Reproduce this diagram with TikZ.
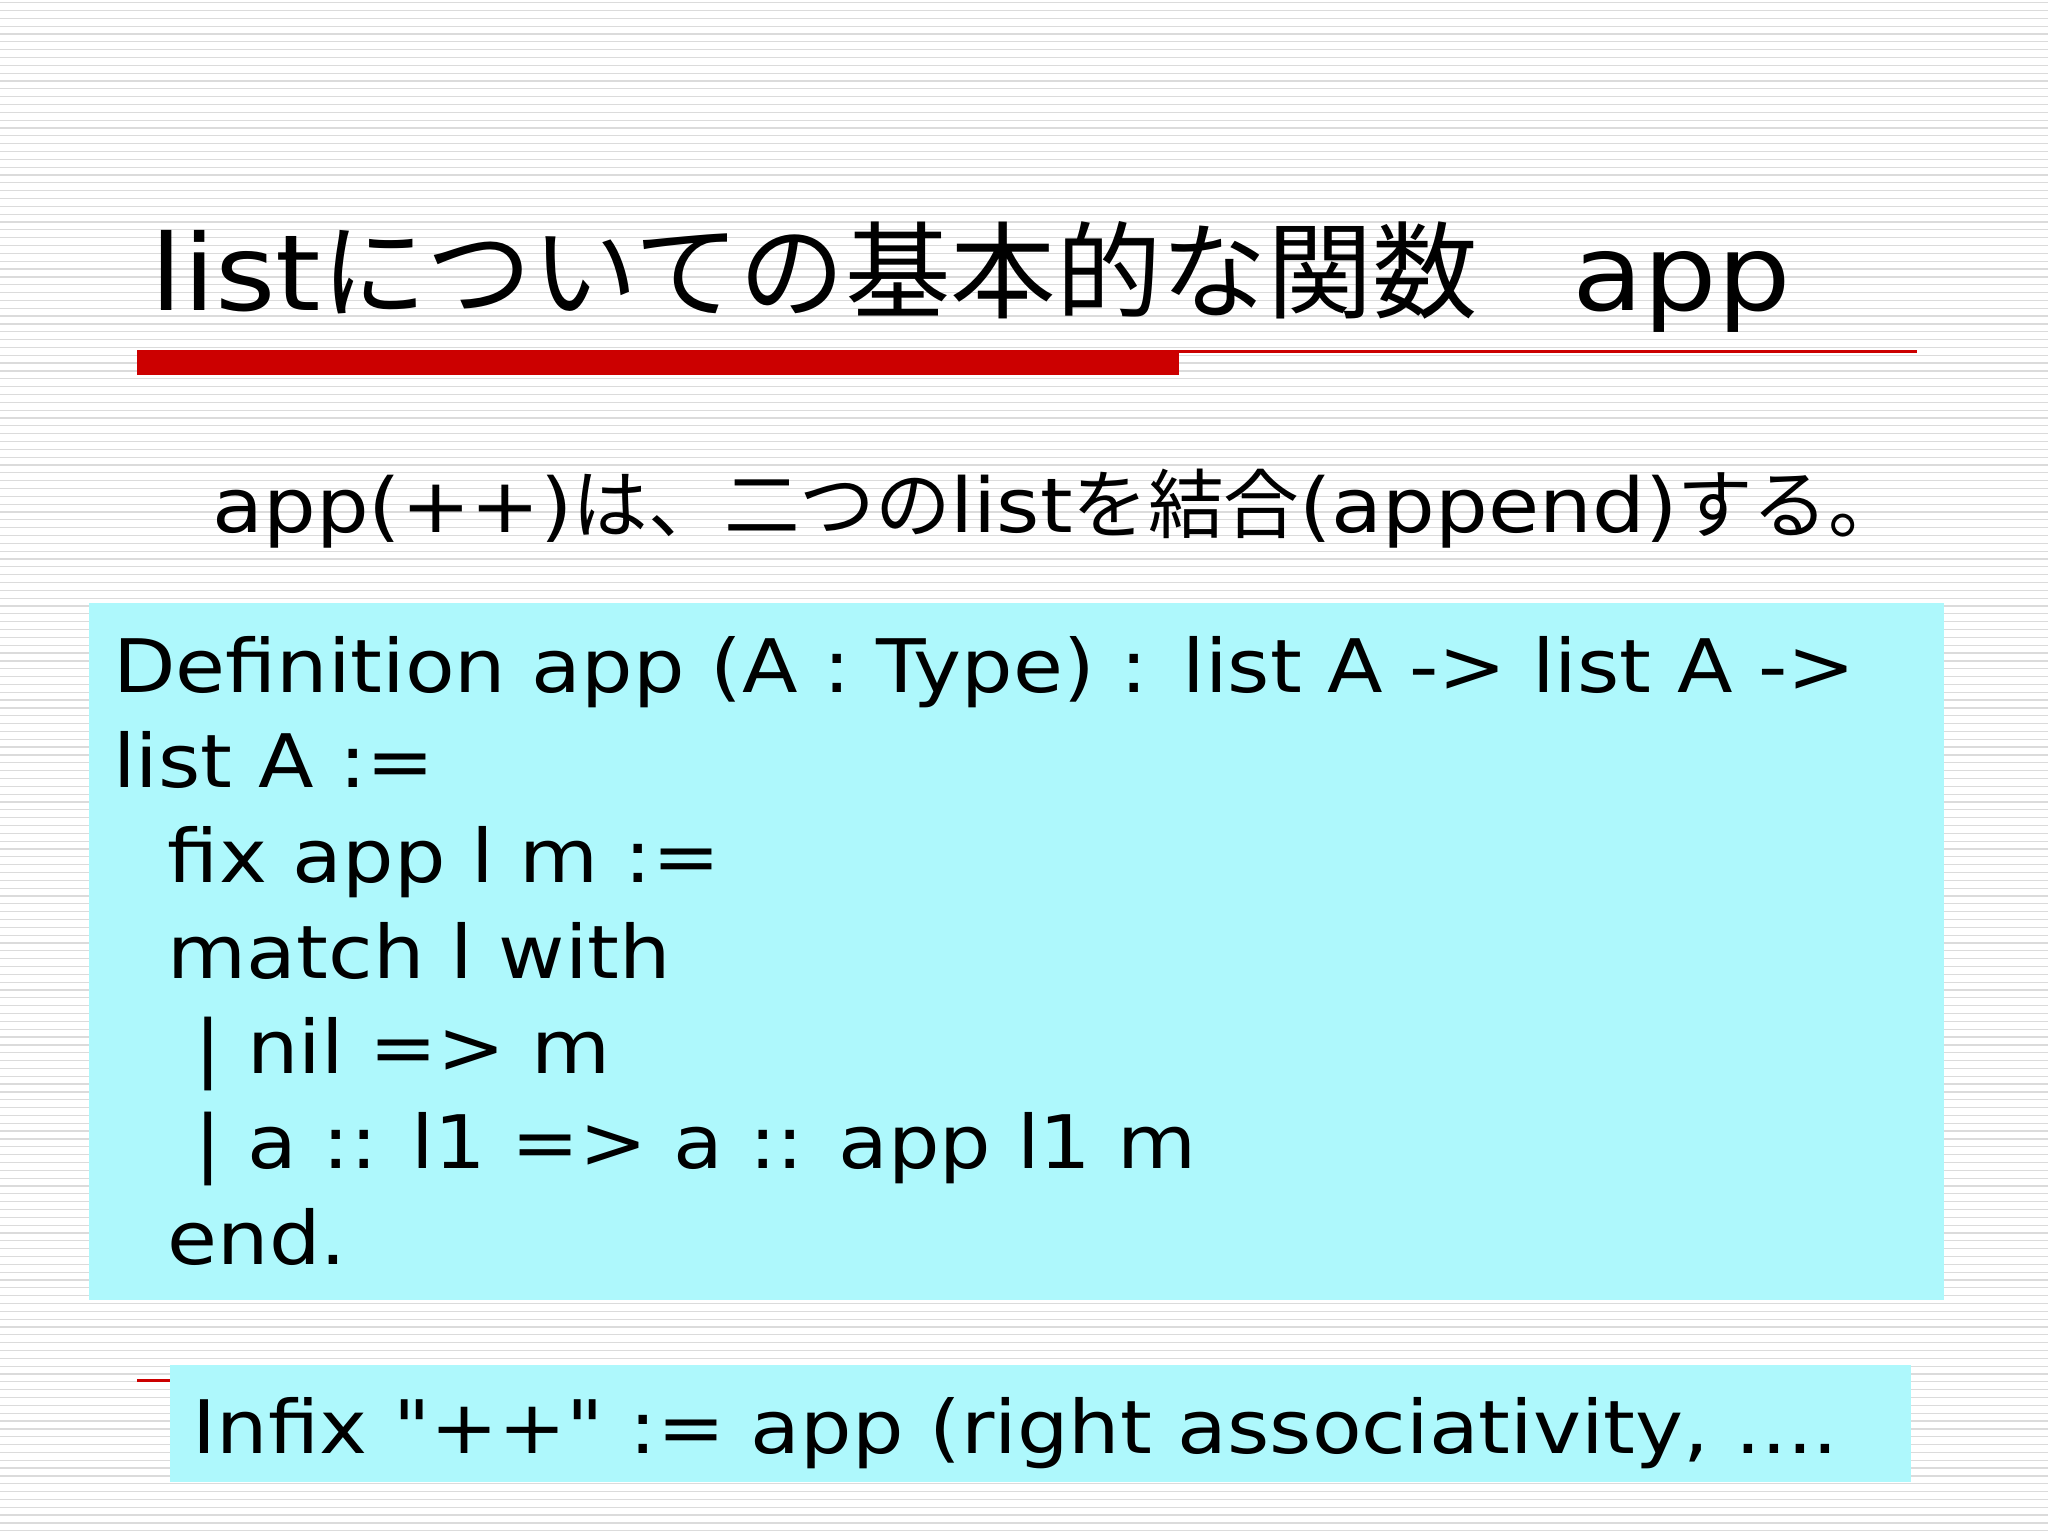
\documentclass[tikz,border=0pt]{standalone}
\usepackage{fontspec}
\setmainfont{DejaVu Sans}[FakeStretch=1.1]
\newfontfamily\plainq{DejaVu Sans}[FakeStretch=1.1,Ligatures=TeXOff]
\newfontfamily\jp{Noto Sans CJK JP}
\definecolor{boxc}{HTML}{AEF8FC}
\begin{document}
\begin{tikzpicture}[x=0.013061cm,y=-0.013061cm,
  codeline/.style={anchor=base west,inner sep=0pt,font=\fontsize{21}{25}\selectfont}]
\useasboundingbox (0,0) rectangle (1568,1176);
\fill[white] (0,0) rectangle (1568,1176);
\foreach \k in {0,...,195} {\draw[gray!28,line width=0.35pt] (0,\k*6+2) -- (1568,\k*6+2);}
\node[anchor=base west,inner sep=0pt,font=\fontsize{30}{35}\selectfont] (title) at (115,238) {list{\jp についての基本的な関数}\hspace{0.9em}app};
\fill[red!80!black] (105,268) rectangle (903,287);
\draw[red!80!black,line width=0.8pt] (903,269) -- (1468,269);
\node[anchor=base west,inner sep=0pt,font=\fontsize{21.5}{25}\selectfont] (sub) at (162,408) {app(++){\jp は、二つの}list{\jp を結合}(append){\jp する。}};
\fill[boxc] (68,462) rectangle (1488,995);
\node[codeline] (l1) at (86,530) {Definition app (A : Type) : list A -> list A ->};
\node[codeline] (l2) at (86,603) {list A :=};
\node[codeline] (l3) at (128,676) {fix app l m :=};
\node[codeline] (l4) at (128,749) {match l with};
\node[codeline] (l5) at (148,822) {| nil => m};
\node[codeline] (l6) at (148,895) {| a :: l1 => a :: app l1 m};
\node[codeline] (l7) at (128,968) {end.};
\draw[red!80!black,line width=0.8pt] (105,1057) -- (130,1057);
\fill[boxc] (130,1045) rectangle (1463,1135);
\node[codeline] (inf) at (147,1113) {\plainq Infix "++" := app (right associativity, ....};
\end{tikzpicture}
\end{document}
